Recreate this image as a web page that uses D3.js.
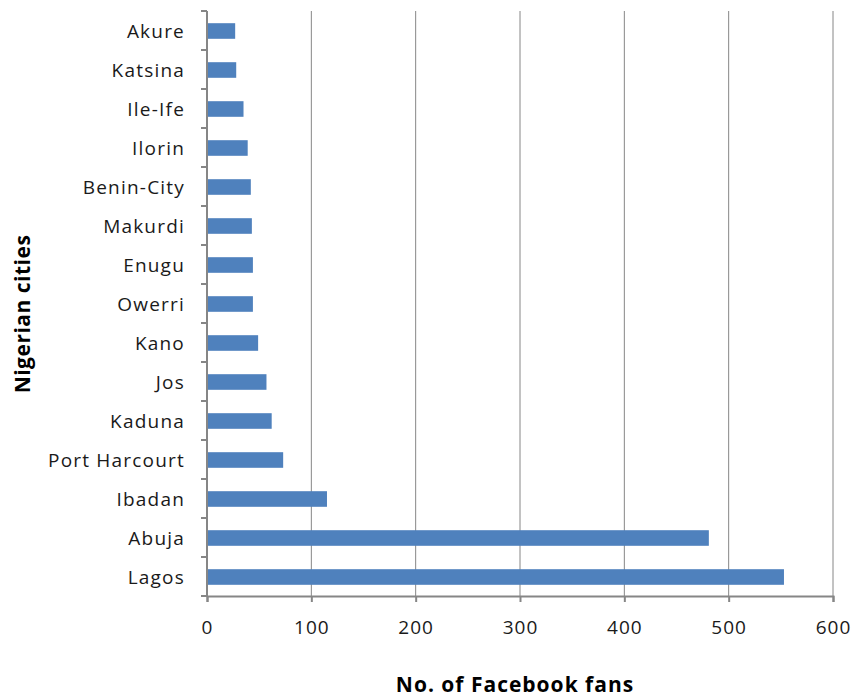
<!DOCTYPE html>
<html>
<head>
<meta charset="utf-8">
<script src="https://cdn.jsdelivr.net/npm/d3@7"></script>
<style>
  body { margin: 0; background: #fff; }
  svg { display: block; }
  text { font-family: "Open Sans", Lato, "Liberation Sans", sans-serif; }
</style>
</head>
<body>
<script>
// Facebook fans by Nigerian city
const cities = ["Akure", "Katsina", "Ile-Ife", "Ilorin", "Benin-City", "Makurdi", "Enugu",
  "Owerri", "Kano", "Jos", "Kaduna", "Port Harcourt", "Ibadan", "Abuja", "Lagos"];
const fans = [27, 28, 35, 39, 42, 43, 44, 44, 49, 57, 62, 73, 115, 481, 553];
const xTicks = [0, 100, 200, 300, 400, 500, 600];

const width = 853, height = 698;
const margin = { left: 207, top: 11 };
const plotBottom = 596, plotRight = 833;
const svg = d3.select("body").append("svg").attr("width", width).attr("height", height);

const x = d3.scaleLinear().domain([0, 600]).range([margin.left, plotRight]);
const y = d3.scaleBand().domain(cities).range([margin.top, plotBottom]).paddingInner(0.6).paddingOuter(0.3);
const yb = d3.scaleBand().domain(cities).range([margin.top, plotBottom]);

const grey = "#868686";
const labelFont = "'Open Sans', Lato, sans-serif";

// vertical gridlines
svg.append("g").selectAll("line").data(xTicks.slice(1)).join("line")
  .attr("x1", d => x(d)).attr("x2", d => x(d))
  .attr("y1", margin.top).attr("y2", plotBottom)
  .attr("stroke", grey).attr("stroke-width", 1);

// bars
svg.append("g").selectAll("rect").data(cities).join("rect")
  .attr("x", x(0))
  .attr("y", d => y(d) + 0.5)
  .attr("width", (d, i) => x(fans[i]) - x(0))
  .attr("height", y.bandwidth())
  .attr("fill", "#4f81bd");

// y axis with category ticks between bands
const yAxisG = svg.append("g");
yAxisG.append("line").attr("x1", x(0)).attr("x2", x(0)).attr("y1", margin.top).attr("y2", plotBottom)
  .attr("stroke", grey).attr("stroke-width", 2);
yAxisG.selectAll("line.t").data(d3.range(cities.length + 1)).join("line").attr("class", "t")
  .attr("x1", x(0) - 6).attr("x2", x(0))
  .attr("y1", i => margin.top + i * yb.step()).attr("y2", i => margin.top + i * yb.step())
  .attr("stroke", grey).attr("stroke-width", 2);
yAxisG.selectAll("text").data(cities).join("text")
  .attr("x", 185)
  .attr("y", d => yb(d) + yb.bandwidth() / 2 + 2)
  .attr("text-anchor", "end").attr("dominant-baseline", "middle")
  .attr("font-size", 19).attr("letter-spacing", 1.2).attr("fill", "#1a1a1a")
  .text(d => d);

// x axis
const xAxis = d3.axisBottom(x).tickValues(xTicks).tickSize(6).tickPadding(19);
const xg = svg.append("g").attr("transform", `translate(0,${plotBottom})`).call(xAxis);
xg.select(".domain").attr("stroke", grey).attr("stroke-width", 2);
xg.selectAll(".tick line").attr("stroke", grey).attr("stroke-width", 2);
xg.selectAll(".tick text").attr("font-size", 19).attr("letter-spacing", 1).attr("fill", "#1a1a1a")
  .style("font-family", labelFont);

// axis titles
svg.append("text").attr("x", 515).attr("y", 692)
  .attr("text-anchor", "middle").attr("font-size", 21).attr("letter-spacing", 1).attr("font-weight", "bold")
  .attr("fill", "#000").text("No. of Facebook fans");
svg.append("text")
  .attr("transform", "translate(30,314) rotate(-90)")
  .attr("text-anchor", "middle").attr("font-size", 21).attr("letter-spacing", 0.5).attr("font-weight", "bold")
  .attr("fill", "#000").text("Nigerian cities");
</script>
</body>
</html>
